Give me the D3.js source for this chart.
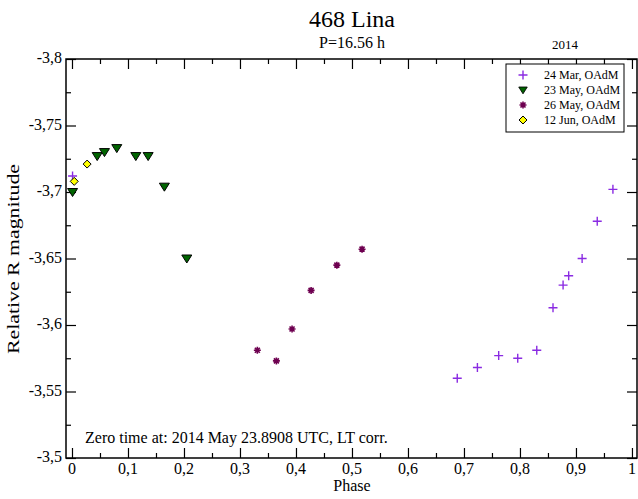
<!DOCTYPE html>
<html>
<head>
<meta charset="utf-8">
<script src="https://cdn.jsdelivr.net/npm/d3@7"></script>
<style>
  body { margin: 0; background: #fff; }
</style>
</head>
<body>
<div id="plot"></div>
<script>
// Sessions in legend order
let sessionNames = ['24 Mar, OAdM', '23 May, OAdM', '26 May, OAdM', '12 Jun, OAdM']

// Phase and relative R magnitude per session
let marPhase = [0.001, 0.688, 0.724, 0.762, 0.796, 0.830, 0.859, 0.877, 0.887, 0.911, 0.938, 0.966]
let marMag = [-3.712, -3.560, -3.568, -3.577, -3.575, -3.581, -3.613, -3.630, -3.637, -3.650, -3.678, -3.702]

let may23Phase = [0.001, 0.045, 0.058, 0.080, 0.114, 0.136, 0.165, 0.205]
let may23Mag = [-3.700, -3.727, -3.730, -3.733, -3.727, -3.727, -3.704, -3.650]

let may26Phase = [0.331, 0.365, 0.393, 0.427, 0.473, 0.518]
let may26Mag = [-3.581, -3.573, -3.597, -3.626, -3.645, -3.657]

let junPhase = [0.004, 0.027]
let junMag = [-3.708, -3.721]

// Tick values
let xMajor = d3.range(0, 1.001, 0.1)
let xMinor = d3.range(0.05, 1, 0.1)
let yMajor = [-3.8, -3.75, -3.7, -3.65, -3.6, -3.55, -3.5]
let yMinor = [-3.775, -3.725, -3.675, -3.625, -3.575, -3.525]

let width = 638
let height = 499
let plotL = 66, plotR = 637, plotT = 59, plotB = 458
let serif = '"Liberation Serif", "Times New Roman", serif'

let svg = d3.select('#plot').append('svg')
  .attr('width', width)
  .attr('height', height)
  .style('font-family', serif)

let x = d3.scaleLinear().domain([-0.0107, 1.009]).range([plotL, plotR])
let y = d3.scaleLinear().domain([-3.8, -3.5]).range([plotT, plotB])

let fmtX = d => d === 0 ? '0' : d === 1 ? '1' : d3.format('.1f')(d).replace('.', ',')
let fmtY = d => String(+d.toFixed(2)).replace('.', ',')

// Inward ticks on all four sides
function addTicks(axisFn, scale, values, size, transform) {
  svg.append('g')
    .attr('transform', transform)
    .call(axisFn(scale).tickValues(values).tickSize(-size).tickFormat(''))
    .call(g => g.select('.domain').remove())
    .call(g => g.selectAll('line').attr('stroke', '#000').attr('stroke-width', 1.2))
}
addTicks(d3.axisBottom, x, xMajor, 10, `translate(0,${plotB})`)
addTicks(d3.axisBottom, x, xMinor, 5, `translate(0,${plotB})`)
addTicks(d3.axisTop, x, xMajor, 10, `translate(0,${plotT})`)
addTicks(d3.axisTop, x, xMinor, 5, `translate(0,${plotT})`)
addTicks(d3.axisLeft, y, yMajor, 10, `translate(${plotL},0)`)
addTicks(d3.axisLeft, y, yMinor, 5, `translate(${plotL},0)`)
addTicks(d3.axisRight, y, yMajor, 10, `translate(${plotR},0)`)
addTicks(d3.axisRight, y, yMinor, 5, `translate(${plotR},0)`)

// Tick labels
svg.append('g').selectAll('text')
  .data(xMajor).enter().append('text')
  .attr('x', d => x(d))
  .attr('y', plotB + 16)
  .attr('text-anchor', 'middle')
  .attr('font-size', 16)
  .text(fmtX)

svg.append('g').selectAll('text')
  .data(yMajor).enter().append('text')
  .attr('x', plotL - 4)
  .attr('y', d => y(d) + 4)
  .attr('text-anchor', 'end')
  .attr('font-size', 16)
  .text(fmtY)

// Frame
svg.append('rect')
  .attr('x', plotL).attr('y', plotT)
  .attr('width', plotR - plotL).attr('height', plotB - plotT)
  .attr('fill', 'none').attr('stroke', '#000').attr('stroke-width', 1.5)

// Titles and labels
function label(xp, yp, size, txt, anchor) {
  return svg.append('text').attr('x', xp).attr('y', yp)
    .attr('text-anchor', anchor || 'middle')
    .attr('font-size', size).text(txt)
}
label(352, 27, 24, '468 Lina')
label(352, 48, 16, 'P=16.56 h')
label(565, 49, 13, '2014')
label(352, 491, 16, 'Phase')
label(0, 0, 16, 'Relative R magnitude')
  .attr('transform', 'translate(19,259) rotate(-90)')
  .attr('textLength', 190)
  .attr('lengthAdjust', 'spacingAndGlyphs')
label(85, 443, 16, 'Zero time at: 2014 May 23.8908 UTC, LT corr.', 'start')

// Marker shapes
let plusPath = 'M-4.5,0H4.5M0,-4.5V4.5'
let starPath = 'M-3.5,0H3.5M0,-3.5V3.5M-2.5,-2.5L2.5,2.5M-2.5,2.5L2.5,-2.5'
let triPath = 'M-5,-3.5L5,-3.5L0,4.5Z'
let diaPath = 'M0,-4L4,0L0,4L-4,0Z'

let styles = [
  {path: plusPath, fill: 'none', stroke: '#8a2be2', sw: 1.4},
  {path: triPath, fill: '#006400', stroke: '#000', sw: 1},
  {path: starPath, fill: 'none', stroke: '#6e0050', sw: 1.6},
  {path: diaPath, fill: '#ffff00', stroke: '#000', sw: 1},
]

let series = [
  marPhase.map((p, i) => ({p: p, m: marMag[i]})),
  may23Phase.map((p, i) => ({p: p, m: may23Mag[i]})),
  may26Phase.map((p, i) => ({p: p, m: may26Mag[i]})),
  junPhase.map((p, i) => ({p: p, m: junMag[i]})),
]

// Draw order: triangles first, then the rest on top
let drawOrder = [1, 2, 0, 3]
drawOrder.forEach(function(k) {
  let s = styles[k]
  svg.append('g').selectAll('path')
    .data(series[k]).enter().append('path')
    .attr('d', s.path)
    .attr('transform', d => `translate(${x(d.p)},${y(d.m)})`)
    .attr('fill', s.fill)
    .attr('stroke', s.stroke)
    .attr('stroke-width', s.sw)
})

// Legend
let legend = svg.append('g')
legend.append('rect')
  .attr('x', 506).attr('y', 64).attr('width', 118).attr('height', 68)
  .attr('fill', '#fff').attr('stroke', '#000').attr('stroke-width', 1)
let legY = [75, 90, 105, 120]
sessionNames.forEach(function(name, i) {
  let s = styles[i]
  legend.append('path')
    .attr('d', s.path)
    .attr('transform', `translate(523,${legY[i]})` + (i === 1 ? ' scale(0.85)' : ''))
    .attr('fill', s.fill).attr('stroke', s.stroke).attr('stroke-width', s.sw)
  legend.append('text')
    .attr('x', 544).attr('y', legY[i] + 4)
    .attr('font-size', 12).text(name)
})
</script>
</body>
</html>
